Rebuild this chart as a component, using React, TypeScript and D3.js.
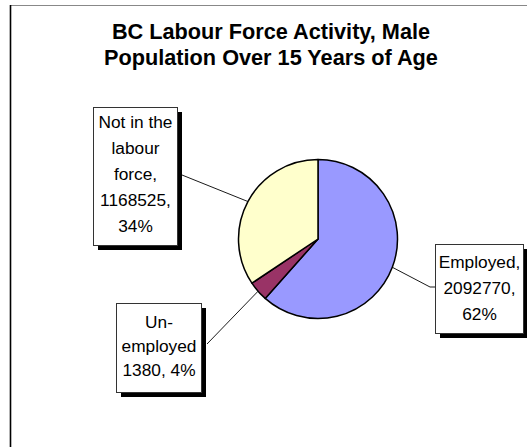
import React from "react";
import * as d3 from "d3";

const titleLines = ["BC Labour Force Activity, Male", "Population Over 15 Years of Age"];
const categories = ["Employed", "Unemployed", "Not in the labour force"];
const values = [2092770, 138000, 1168525];
const colors = ["#9999FF", "#993366", "#FFFFCC"];
const labelLines = [
  ["Employed,", "2092770,", "62%"],
  ["Un-", "employed", "1380, 4%"],
  ["Not in the", "labour", "force,", "1168525,", "34%"],
];

const W = 527;
const H = 447;
const cx = 318;
const cy = 239;
const R = 79.5;

// label box layout: x, y, w, h, first line center, line step, leader end point(s)
const boxes = [
  { x: 435, y: 244, w: 88, h: 89, first: 262, step: 26, path: [[430, 287], [435, 287]] },
  { x: 116, y: 303, w: 85, h: 89, first: 322, step: 24, path: [[207, 344]] },
  { x: 93, y: 107, w: 84, h: 138, first: 122, step: 26, path: [[182, 175]] },
];

export default function App() {
  const pie = d3.pie<number>().sort(null).value((d) => d);
  const arcs = pie(values);
  const arc = d3.arc<d3.PieArcDatum<number>>().innerRadius(0).outerRadius(R);
  const edge = d3.arc<d3.PieArcDatum<number>>().innerRadius(R).outerRadius(R);
  const font = "'Liberation Sans', Arial, sans-serif";

  return (
    <svg width={W} height={H} style={{ position: "absolute", left: 0, top: 0, background: "#fff" }}>
      <rect x={0} y={0} width={W} height={H} fill="#fff" />
      <line x1={10} y1={5.5} x2={W} y2={5.5} stroke="#888" strokeWidth={1.2} />
      <line x1={10.5} y1={5} x2={10.5} y2={H} stroke="#000" strokeWidth={1.6} />
      {titleLines.map((t, i) => (
        <text key={i} x={271} y={39 + i * 26} textAnchor="middle" fontFamily={font} fontWeight="bold" fontSize={21.7} fill="#000">
          {t}
        </text>
      ))}
      {arcs.map((a, i) => {
        const [ex, ey] = edge.centroid(a);
        const pts = [[cx + ex, cy + ey], ...boxes[i].path];
        return (
          <path key={"l" + i} d={d3.line()(pts as [number, number][]) || ""} fill="none" stroke="#000" strokeWidth={0.9} />
        );
      })}
      <g transform={`translate(${cx},${cy})`}>
        {arcs.map((a, i) => (
          <path key={categories[i]} d={arc(a) || ""} fill={colors[i]} stroke="#000" strokeWidth={1.5} strokeLinejoin="round" />
        ))}
      </g>
      {boxes.map((b, i) => (
        <g key={"b" + i}>
          <rect x={b.x + 5} y={b.y + 5} width={b.w} height={b.h} fill="#000" />
          <rect x={b.x + 0.5} y={b.y + 0.5} width={b.w} height={b.h} fill="#fff" stroke="#333" strokeWidth={1} />
          {labelLines[i].map((t, j) => (
            <text key={j} x={b.x + b.w / 2 + 0.5} y={b.first + j * b.step + 6} textAnchor="middle" fontFamily={font} fontSize={17.3} fill="#000">
              {t}
            </text>
          ))}
        </g>
      ))}
    </svg>
  );
}
